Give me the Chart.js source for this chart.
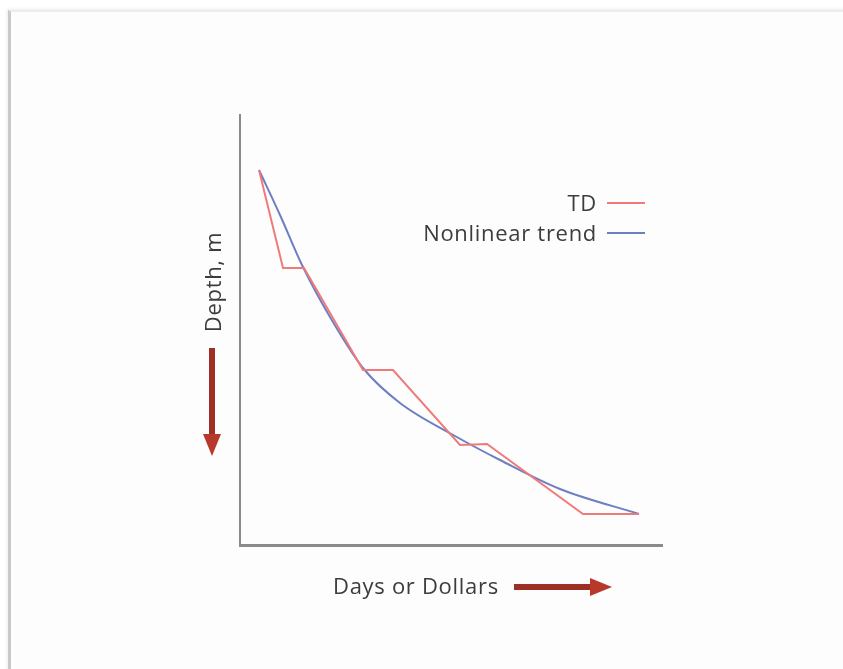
<!DOCTYPE html>
<html>
<head>
<meta charset="utf-8">
<script src="https://cdn.jsdelivr.net/npm/chart.js@4.4.1/dist/chart.umd.min.js"></script>
<style>
  html, body { margin: 0; padding: 0; background: #fff; }
  body { width: 843px; height: 669px; position: relative; overflow: hidden; font-family: "Open Sans", sans-serif; }
  #frame { position: absolute; left: 8px; top: 10px; width: 900px; height: 700px;
    border-left: 3px solid #c9c9c9; border-top: 2px solid #ececec; background: #fdfdfd;
    box-shadow: -1px -1px 3px rgba(0,0,0,0.08); }
  #wrap { position: absolute; left: 0; top: 0; width: 843px; height: 669px; }
  .lbl { position: absolute; color: #3c3c3c; font-size: 22px; line-height: 26px; white-space: nowrap; letter-spacing: 0.7px; }
  .legend { position: absolute; right: 198px; font-size: 22px; color: #3c3c3c; white-space: nowrap; letter-spacing: 0.7px;
    display: flex; align-items: center; line-height: 26px; }
  .legend i { display: inline-block; width: 38px; height: 2px; margin-left: 10px; margin-top: 2px; }
  .arrow { position: absolute; }
</style>
</head>
<body>
<div id="frame"></div>
<div id="wrap"><canvas id="chart" width="843" height="669"></canvas></div>

<div class="legend" style="top:189px"><span>TD</span><i id="lgTd"></i></div>
<div class="legend" style="top:219px"><span>Nonlinear trend</span><i id="lgTrend"></i></div>

<div class="lbl" style="left:212px; top:282px; transform: translate(-50%,-50%) rotate(-90deg);">Depth, m</div>
<div class="lbl" style="left:333px; top:572px;">Days or Dollars</div>

<svg class="arrow" style="left:200px; top:346px" width="24" height="114">
  <rect x="9" y="2" width="6" height="88" fill="#9e2f25"/>
  <polygon points="3,88 21,88 12,110" fill="#b8382b"/>
</svg>
<svg class="arrow" style="left:512px; top:575px" width="104" height="24">
  <rect x="2" y="9" width="78" height="6" fill="#9e2f25"/>
  <polygon points="78,3 78,21 100,12" fill="#b8382b"/>
</svg>

<script>
// x: days or dollars (arbitrary units), depth: increasing downward
const tdX = [19, 43, 64, 123, 153, 220, 247, 343, 399];
const tdDepth = [55, 153, 153, 255, 255, 330, 329, 399, 399];

const trendX = [19, 40, 62, 90, 123, 160, 215, 260, 320, 399];
const trendDepth = [55, 100, 150, 202, 253, 288, 321, 345, 374, 399];

const xMax = 422;
const depthMax = 430;

const tdColor = '#f07a7a';
const trendColor = '#6d7fc4';

document.getElementById('lgTd').style.background = tdColor;
document.getElementById('lgTrend').style.background = trendColor;

function toPoints(xs, ys) {
  return xs.map((x, i) => ({ x: x, y: ys[i] }));
}

const ctx = document.getElementById('chart').getContext('2d');
new Chart(ctx, {
  type: 'scatter',
  data: {
    datasets: [
      {
        label: 'TD',
        data: toPoints(tdX, tdDepth),
        showLine: true,
        borderColor: tdColor,
        borderWidth: 2,
        pointRadius: 0,
        tension: 0
      },
      {
        label: 'Nonlinear trend',
        data: toPoints(trendX, trendDepth),
        showLine: true,
        borderColor: trendColor,
        borderWidth: 2,
        pointRadius: 0,
        cubicInterpolationMode: 'monotone'
      }
    ]
  },
  options: {
    responsive: false,
    animation: false,
    layout: { padding: { left: 240, top: 115, right: 181, bottom: 124 } },
    plugins: { legend: { display: false }, tooltip: { enabled: false } },
    scales: {
      x: {
        type: 'linear', min: 0, max: xMax,
        grid: { display: false },
        ticks: { display: false },
        border: { display: true, color: '#8a8a8a', width: 3 },
        afterFit: s => { s.height = 0; }
      },
      y: {
        type: 'linear', min: 0, max: depthMax, reverse: true,
        grid: { display: false },
        ticks: { display: false },
        border: { display: true, color: '#8a8a8a', width: 2 },
        afterFit: s => { s.width = 0; }
      }
    }
  }
});
</script>
</body>
</html>
